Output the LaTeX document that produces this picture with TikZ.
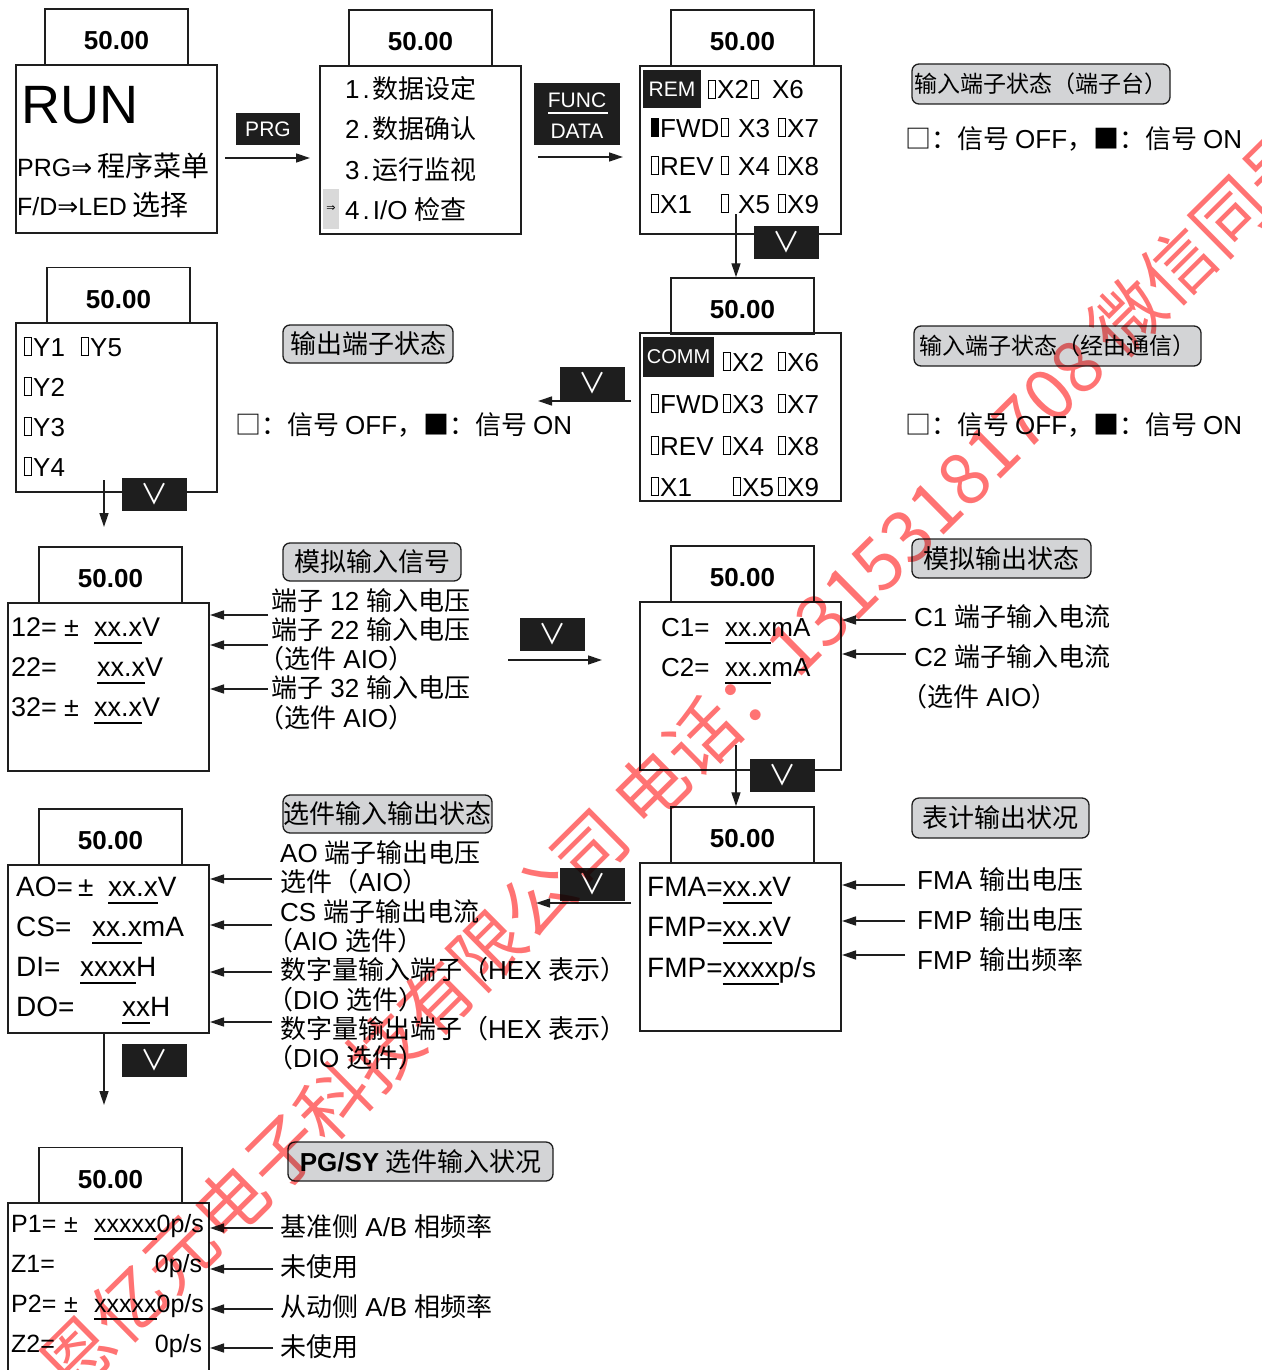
\documentclass[tikz,border=0pt]{standalone}
\usepackage{fontspec}
\setmainfont{Liberation Sans}
\newfontfamily\zhf{Noto Sans CJK SC}
\newfontfamily\djv{DejaVu Sans}
\usetikzlibrary{arrows.meta}
\newcommand\zh[1]{{\zhf #1}}
\newcommand\fsz[1]{\fontsize{#1}{#1}\selectfont}
\newcommand\ob{\kern1.5pt\vbox{\hrule height 1pt\hbox{\vrule width 1pt height 17pt depth 0pt\kern6pt\vrule width 1pt height 17pt depth 0pt}\hrule height 1pt}\kern1.5pt}
\newcommand\fb{\kern1.5pt\vrule width 8pt height 19pt depth 0pt\kern1.5pt}
\newcommand\ul[1]{\vtop{\hbox{#1}\kern6pt\hrule height 1.6pt}}
\definecolor{lblgray}{RGB}{211,212,214}
\definecolor{wmred}{RGB}{255,115,115}
\definecolor{ink}{RGB}{30,30,30}
\tikzset{
 scr/.style={draw=ink, line width=2pt, minimum width=201pt, minimum height=168pt, inner sep=0pt},
 tab/.style={draw=ink, line width=1.5pt, minimum width=143pt, minimum height=56pt, inner sep=0pt, font=\bfseries\fsz{26}, text height=25pt, text depth=0pt},
 key/.style={fill=ink, inner sep=0pt, minimum width=65pt, minimum height=33pt, text=white, font=\zhf\fsz{28}},
 keytxt/.style={inner sep=0pt, text=white, font=\fsz{21}},
 lbl/.style={draw=ink, line width=1.3pt, fill=lblgray, rounded corners=7pt, inner sep=0pt, font=\zhf\fsz{26}},
 row/.style={inner sep=0pt, anchor=base west, font=\fsz{26}},
 side/.style={inner sep=0pt, anchor=base west, font=\fsz{26}},
 arr/.style={draw=ink, line width=1.4pt, -{Triangle[length=14pt,width=9pt]}},
}
\begin{document}
\begin{tikzpicture}[x=1pt,y=-1pt]
\useasboundingbox (0,0) rectangle (1261,1370);
% ---------- panel 1
\node[tab] (t1) at (116.5,37) {50.00};
\node[scr] (b1) at (116.5,149) {};
\node[row, font=\fsz{54}] (r1a) at (21,124) {RUN};
\node[row, font=\fsz{25}] (r1b) at (17,176) {PRG{\djv ⇒}\kern5pt{\zhf\fsz{28}程序菜单}};
\node[row, font=\fsz{25}] (r1c) at (17,215) {F/D{\djv ⇒}LED\kern5pt{\zhf\fsz{28}选择}};
\node[key, minimum width=64pt, minimum height=32pt, font=\fsz{21}] (k1) at (268,129) {PRG};
% ---------- panel 2
\node[tab] (t2) at (420.5,38) {50.00};
\node[scr] (b2) at (420.5,150) {};
\draw[arr] ([shift={(7,9)}]b1.east) -- ([shift={(-9,8)}]b2.west);
\node[row] (r2a) at (345,99) {1\kern3pt.\kern3pt\zh{数据设定}};
\node[row] (r2b) at (345,139) {2\kern3pt.\kern3pt\zh{数据确认}};
\node[row] (r2c) at (345,179) {3\kern3pt.\kern3pt\zh{运行监视}};
\node[fill=gray!30, inner sep=0pt, minimum width=16pt, minimum height=40pt, font=\djv\fsz{11}] (hl) at (331,209) {⇒};
\node[row] (r2d) at (345,219) {4\kern3pt.\kern3pt I/O \zh{检查}};
\node[key, minimum width=86pt, minimum height=62pt] (k2) at (577,114) {};
\node[keytxt] (k2a) at (577,100) {FUNC};
\node[keytxt] (k2b) at (577,131) {DATA};
\draw[white, line width=1.2pt] ([shift={(14,-1)}]k2.west) -- ([shift={(-12,-1)}]k2.east);
% ---------- panel 3
\node[tab] (t3) at (742.5,38) {50.00};
\node[scr] (b3) at (740.5,150) {};
\draw[arr] ([shift={(16,7)}]b2.east) -- ([shift={(-16,7)}]b3.west);
\node[key, minimum width=58pt, minimum height=38pt, font=\fsz{21}] (rem) at (672,89) {REM};
\node[row] (r3a) at (706,99) {\ob X2\ob\kern12pt X6};
\node[row] (r3b) at (649,137) {\makebox[70pt][l]{\fb FWD}\makebox[57pt][l]{\ob\kern8pt X3}\ob X7};
\node[row] (r3c) at (649,175) {\makebox[70pt][l]{\ob REV}\makebox[57pt][l]{\ob\kern8pt X4}\ob X8};
\node[row] (r3d) at (649,213) {\makebox[70pt][l]{\ob X1}\makebox[57pt][l]{\ob\kern8pt X5}\ob X9};
\node[key] (k3) at (786.5,242.5) {∨};
\coordinate (a3s) at (736,214);
\node[lbl, minimum width=258pt, minimum height=40pt, font=\zhf\fsz{23}] (L1) at (1041,84) {输入端子状态（端子台）};
\node[side] (g1) at (905,148) {\zh{□：信号}\kern6pt OFF\zh{，■：信号}\kern6pt ON};
% ---------- panel 4
\node[tab] (t4) at (118.5,295.5) {50.00};
\node[scr, minimum height=169pt] (b4) at (116.5,407.5) {};
\node[row] (r4a) at (22,356) {\makebox[57pt][l]{\ob Y1}\ob Y5};
\node[row] (r4b) at (22,396) {\ob Y2};
\node[row] (r4c) at (22,436) {\ob Y3};
\node[row] (r4d) at (22,476) {\ob Y4};
\node[key] (k4) at (154,494.5) {∨};
\coordinate (a5s) at (104,480);
\coordinate (a5e) at (104,527);
\draw[arr] (a5s) -- (a5e);
\node[lbl, minimum width=170pt, minimum height=38pt] (L2) at (368,344) {输出端子状态};
\node[side] (g2) at (235,434) {\zh{□：信号}\kern6pt OFF\zh{，■：信号}\kern6pt ON};
% ---------- panel 5
\node[tab] (t5) at (742.5,306) {50.00};
\node[scr] (b5) at (740.5,417) {};
\draw[arr] (a3s) -- (a3s |- t5.north);
\node[key, minimum width=71pt, minimum height=40pt, font=\fsz{20}] (comm) at (678.5,357) {COMM};
\node[row] (r5a) at (721,371) {\makebox[55pt][l]{\ob X2}\ob X6};
\node[row] (r5b) at (649,413) {\makebox[72pt][l]{\ob FWD}\makebox[55pt][l]{\ob X3}\ob X7};
\node[row] (r5c) at (649,455) {\makebox[72pt][l]{\ob REV}\makebox[55pt][l]{\ob X4}\ob X8};
\node[row] (r5d) at (649,496) {\makebox[72pt][l]{\ob X1}\makebox[55pt][l]{\kern10pt\ob X5}\ob X9};
\node[key] (k5) at (592.5,383.5) {∨};
\coordinate (a4e) at (538,401);
\draw[arr] ([shift={(-8,-16)}]b5.west) -- (a4e);
\node[lbl, minimum width=287pt, minimum height=40pt, font=\zhf\fsz{23}] (L3) at (1057.5,346) {输入端子状态（经由通信）};
\node[side] (g3) at (905,434) {\zh{□：信号}\kern6pt OFF\zh{，■：信号}\kern6pt ON};
% ---------- panel 6
\node[tab] (t6) at (110.5,575) {50.00};
\node[scr] (b6) at (108.5,687) {};
\node[row, font=\fsz{27}] (r6a) at (11,636) {\makebox[53pt][l]{12=}\makebox[30pt][l]{±}\ul{xx.x}V};
\node[row, font=\fsz{27}] (r6b) at (11,676) {\makebox[86pt][l]{22=}\ul{xx.x}V};
\node[row, font=\fsz{27}] (r6c) at (11,716) {\makebox[53pt][l]{32=}\makebox[30pt][l]{±}\ul{xx.x}V};
\foreach \y/\n in {615/1,645/2,689/3} {\coordinate (c6\n) at (268,\y); \draw[arr] (c6\n) -- (c6\n -| b6.east);}
\node[lbl, minimum width=178pt, minimum height=38pt] (L4) at (372,562) {模拟输入信号};
\node[side] (s61) at (271,610) {\zh{端子} 12 \zh{输入电压}};
\node[side] (s62) at (271,639) {\zh{端子} 22 \zh{输入电压}};
\node[side] (s63) at (258,668) {\zh{（选件} AIO\zh{）}};
\node[side] (s64) at (271,697) {\zh{端子} 32 \zh{输入电压}};
\node[side] (s65) at (258,727) {\zh{（选件} AIO\zh{）}};
\node[key] (k6) at (552,634.5) {∨};
% ---------- panel 7
\node[tab] (t7) at (742.5,574) {50.00};
\node[scr] (b7) at (740.5,686) {};
\draw[arr] ([shift={(298,-27)}]b6.east) -- ([shift={(-37,-26)}]b7.west);
\node[row] (r7a) at (661,636) {\makebox[64pt][l]{C1=}\ul{xx.x}mA};
\node[row] (r7b) at (661,676) {\makebox[64pt][l]{C2=}\ul{xx.x}mA};
\foreach \y/\n in {620/1,654/2} {\coordinate (c7\n) at (906,\y); \draw[arr] (c7\n) -- (c7\n -| b7.east);}
\node[lbl, minimum width=179pt, minimum height=39pt] (L5) at (1001.5,558.5) {模拟输出状态};
\node[side] (s71) at (914,626) {C1 \zh{端子输入电流}};
\node[side] (s72) at (914,666) {C2 \zh{端子输入电流}};
\node[side] (s73) at (901,706) {\zh{（选件} AIO\zh{）}};
\node[key] (k7) at (782,775.5) {∨};
\coordinate (a7s) at (736,745);
% ---------- panel 8
\node[tab] (t8) at (110.5,837) {50.00};
\node[scr] (b8) at (108.5,949) {};
\node[row, font=\fsz{28}] (r8a) at (16,896) {\makebox[62pt][l]{AO=}\makebox[30pt][l]{±}\ul{xx.x}V};
\node[row, font=\fsz{28}] (r8b) at (16,936) {\makebox[76pt][l]{CS=}\ul{xx.x}mA};
\node[row, font=\fsz{28}] (r8c) at (16,976) {\makebox[64pt][l]{DI=}\ul{xxxx}H};
\node[row, font=\fsz{28}] (r8d) at (16,1016) {\makebox[106pt][l]{DO=}\ul{xx}H};
\foreach \y/\n in {879/1,925/2,972/3,1022/4} {\coordinate (c8\n) at (272,\y); \draw[arr] (c8\n) -- (c8\n -| b8.east);}
\node[lbl, minimum width=209pt, minimum height=38pt] (L6) at (387.5,814) {选件输入输出状态};
\node[side] (s81) at (280,862) {AO \zh{端子输出电压}};
\node[side] (s82) at (280,891) {\zh{选件（}AIO\zh{）}};
\node[side] (s83) at (280,921) {CS \zh{端子输出电流}};
\node[side] (s84) at (267,950) {\zh{（}AIO \zh{选件）}};
\node[side] (s85) at (280,979) {\zh{数字量输入端子（}HEX \zh{表示）}};
\node[side] (s86) at (267,1009) {\zh{（}DIO \zh{选件）}};
\node[side] (s87) at (280,1038) {\zh{数字量输出端子（}HEX \zh{表示）}};
\node[side] (s88) at (267,1067) {\zh{（}DIO \zh{选件）}};
\node[key] (k9) at (154,1060.5) {∨};
\coordinate (a9s) at (104,1032);
\coordinate (a9e) at (104,1105);
\draw[arr] (a9s) -- (a9e);
% ---------- panel 9
\node[tab] (t9) at (742.5,835) {50.00};
\node[scr] (b9) at (740.5,947) {};
\draw[arr] (a7s) -- (a7s |- t9.north);
\node[row, font=\fsz{28}] (r9a) at (647,896) {FMA=\ul{xx.x}V};
\node[row, font=\fsz{28}] (r9b) at (647,936) {FMP=\ul{xx.x}V};
\node[row, font=\fsz{28}] (r9c) at (647,977) {FMP=\ul{xxxx}p/s};
\foreach \y/\n in {885/1,921/2,955/3} {\coordinate (c9\n) at (905,\y); \draw[arr] (c9\n) -- (c9\n -| b9.east);}
\node[lbl, minimum width=177pt, minimum height=40pt] (L7) at (1000.5,818) {表计输出状况};
\node[side] (s91) at (917,889) {FMA \zh{输出电压}};
\node[side] (s92) at (917,929) {FMP \zh{输出电压}};
\node[side] (s93) at (917,969) {FMP \zh{输出频率}};
\node[key] (k8) at (592.5,884.5) {∨};
\coordinate (a8e) at (536,903);
\draw[arr] ([shift={(-8,-44)}]b9.west) -- (a8e);
% ---------- panel 10
\node[tab] (t10) at (110.5,1175.5) {50.00};
\node[scr, minimum height=180pt] (b10) at (108.5,1293) {};
\node[row, font=\fsz{25}] (r10a) at (11,1232) {\makebox[53pt][l]{P1=}\makebox[30pt][l]{±}\ul{xxxxx}0p/s};
\node[row, font=\fsz{25}] (r10b) at (11,1272) {\makebox[191pt][l]{Z1=\hfill 0p/s}};
\node[row, font=\fsz{25}] (r10c) at (11,1312) {\makebox[53pt][l]{P2=}\makebox[30pt][l]{±}\ul{xxxxx}0p/s};
\node[row, font=\fsz{25}] (r10d) at (11,1352) {\makebox[191pt][l]{Z2=\hfill 0p/s}};
\foreach \y/\n in {1228/1,1269/2,1309/3,1348/4} {\coordinate (c10\n) at (273,\y); \draw[arr] (c10\n) -- (c10\n -| b10.east);}
\node[lbl, minimum width=265pt, minimum height=39pt] (L8) at (420.5,1161.5) {{\rmfamily\bfseries PG/SY}\kern6pt 选件输入状况};
\node[side] (s101) at (280,1236) {\zh{基准侧} A/B \zh{相频率}};
\node[side] (s102) at (280,1276) {\zh{未使用}};
\node[side] (s103) at (280,1316) {\zh{从动侧} A/B \zh{相频率}};
\node[side] (s104) at (280,1356) {\zh{未使用}};
% ---------- watermark
\begin{scope}[blend mode=multiply]
\node[text=wmred, font=\zhf\fsz{72}, rotate=44.7, anchor=west, inner sep=0pt] (wm) at (52,1380) {恩亿元电子科技有限公司\kern14pt 电话：13153181708\kern14pt 微信同号};
\end{scope}
\end{tikzpicture}
\end{document}
